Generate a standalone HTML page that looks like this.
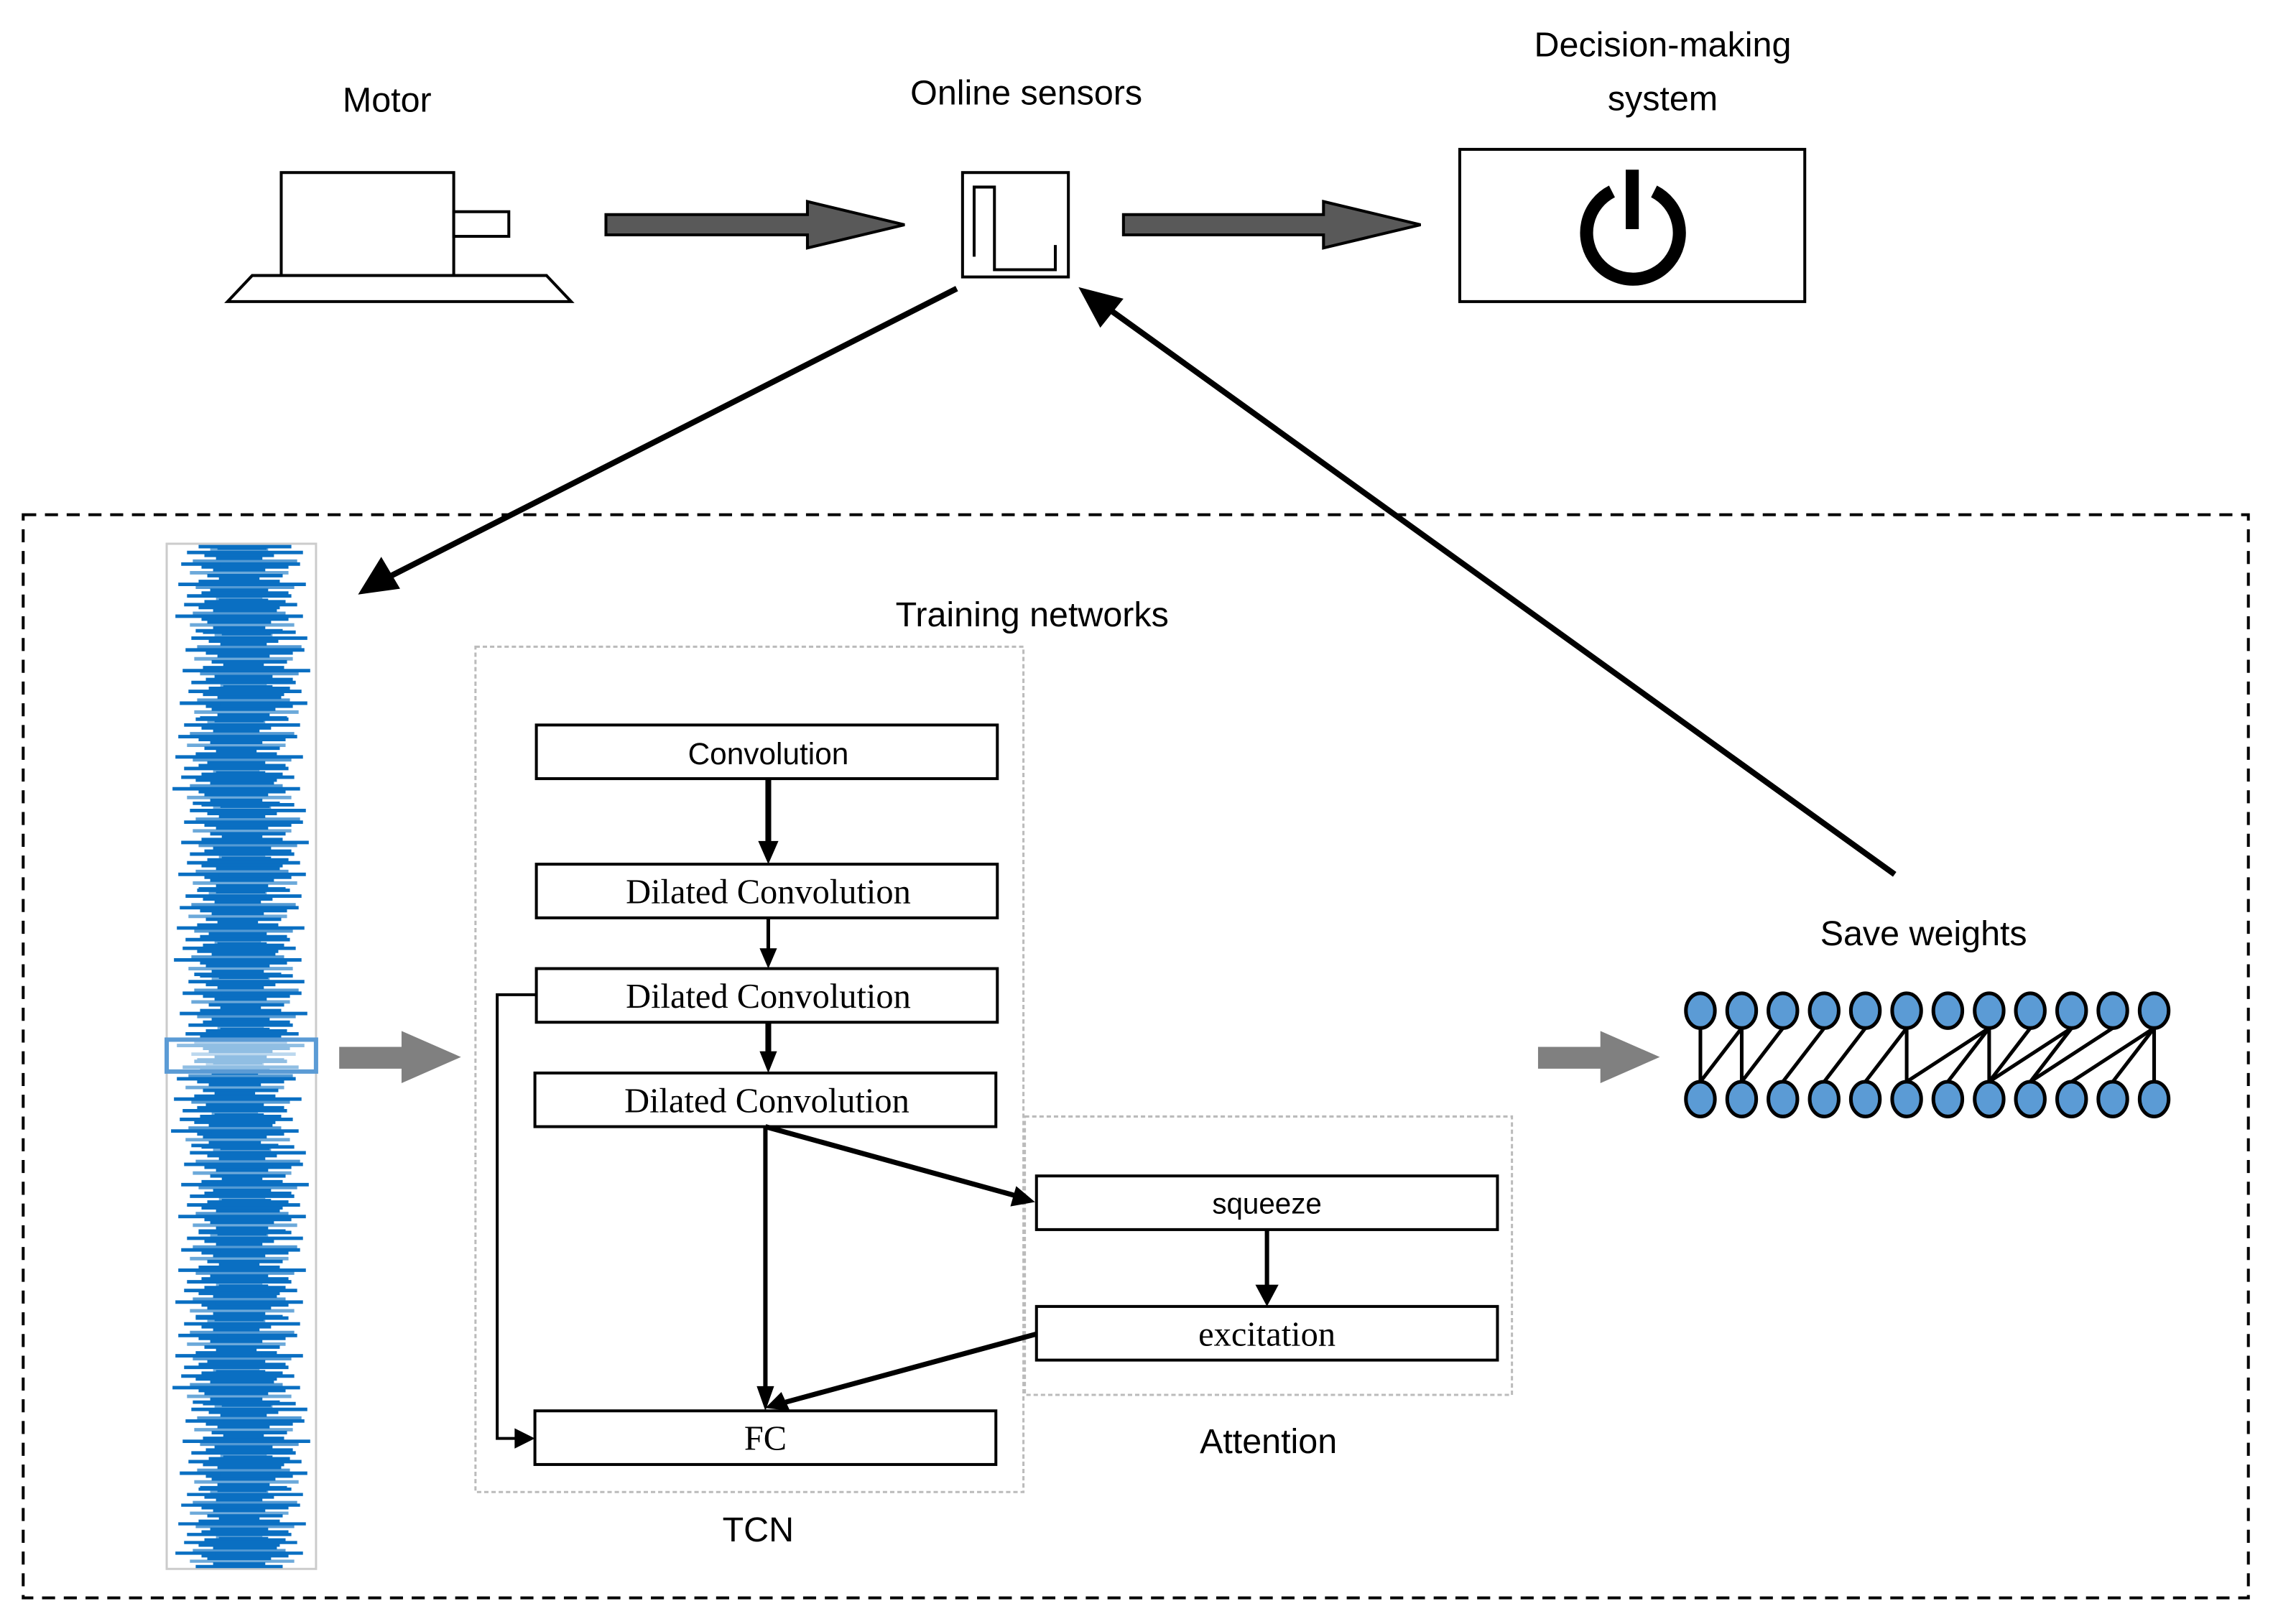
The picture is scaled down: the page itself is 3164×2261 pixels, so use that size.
<!DOCTYPE html>
<html><head><meta charset="utf-8">
<style>
html,body{margin:0;padding:0;background:#fff;}
svg{display:block;}
.s{font-family:"Liberation Sans",sans-serif;}
.r{font-family:"Liberation Serif",serif;}
</style></head>
<body>
<svg width="3164" height="2261" viewBox="0 0 1568 1120" preserveAspectRatio="none" xmlns="http://www.w3.org/2000/svg" xmlns:xlink="http://www.w3.org/1999/xlink">
<defs>
<g id="blk" stroke="#0a6fc2" stroke-width="2.4">
<line x1="137" y1="0" x2="201" y2="0"/>
<line x1="145" y1="2" x2="185" y2="2" stroke-opacity="0.6"/>
<line x1="129" y1="4" x2="209" y2="4"/>
<line x1="141" y1="6" x2="189" y2="6"/>
<line x1="149" y1="8" x2="181" y2="8"/>
<line x1="133" y1="10" x2="205" y2="10" stroke-opacity="0.7"/>
<line x1="125" y1="12" x2="207" y2="12"/>
<line x1="139" y1="14" x2="199" y2="14"/>
<line x1="147" y1="16" x2="183" y2="16"/>
<line x1="131" y1="18" x2="199" y2="18" stroke-opacity="0.6"/>
<line x1="143" y1="20" x2="195" y2="20"/>
<line x1="151" y1="22" x2="179" y2="22"/>
<line x1="137" y1="24" x2="193" y2="24"/>
<line x1="123" y1="26" x2="211" y2="26"/>
<line x1="135" y1="28" x2="203" y2="28" stroke-opacity="0.7"/>
<line x1="145" y1="30" x2="185" y2="30"/>
<line x1="139" y1="32" x2="199" y2="32"/>
<line x1="129" y1="34" x2="201" y2="34"/>
<line x1="149" y1="36" x2="181" y2="36" stroke-opacity="0.6"/>
<line x1="141" y1="38" x2="197" y2="38"/>
<line x1="127" y1="40" x2="205" y2="40"/>
<line x1="137" y1="42" x2="193" y2="42"/>
<line x1="147" y1="44" x2="191" y2="44"/>
<line x1="133" y1="46" x2="197" y2="46" stroke-opacity="0.7"/>
<line x1="121" y1="48" x2="209" y2="48"/>
<line x1="139" y1="50" x2="199" y2="50"/>
<line x1="143" y1="52" x2="187" y2="52"/>
<line x1="131" y1="54" x2="203" y2="54" stroke-opacity="0.6"/>
<line x1="147" y1="56" x2="183" y2="56"/>
<line x1="135" y1="58" x2="195" y2="58"/>
<line x1="150" y1="1" x2="184" y2="1"/>
<line x1="152" y1="13" x2="186" y2="13"/>
<line x1="148" y1="25" x2="182" y2="25"/>
<line x1="151" y1="37" x2="185" y2="37"/>
<line x1="149" y1="49" x2="183" y2="49"/>
</g>
</defs>
<rect width="1568" height="1120" fill="#fff"/>
<!-- Top labels -->
<text class="s" x="267" y="77" font-size="24" text-anchor="middle">Motor</text>
<text class="s" x="708" y="72" font-size="24" text-anchor="middle">Online sensors</text>
<text class="s" x="1147" y="39" font-size="24" text-anchor="middle">Decision-making</text>
<text class="s" x="1147" y="76" font-size="24" text-anchor="middle">system</text>
<!-- Motor -->
<rect x="194" y="119" width="119" height="71" fill="#fff" stroke="#000" stroke-width="2"/>
<rect x="313" y="146" width="38" height="17" fill="#fff" stroke="#000" stroke-width="2"/>
<polygon points="174,190 377,190 394,208 157,208" fill="#fff" stroke="#000" stroke-width="2"/>
<!-- big arrows -->
<polygon points="418,148 557,148 557,139 624,155 557,171 557,162 418,162" fill="#595959" stroke="#000" stroke-width="2"/>
<polygon points="775,148 913,148 913,139 980,155 913,171 913,162 775,162" fill="#595959" stroke="#000" stroke-width="2"/>
<!-- sensor -->
<rect x="664" y="119" width="73" height="72" fill="#fff" stroke="#000" stroke-width="2"/>
<polyline points="672,177 672,129 686,129 686,186 728,186 728,169" fill="none" stroke="#000" stroke-width="2"/>
<!-- decision -->
<rect x="1007" y="103" width="238" height="105" fill="#fff" stroke="#000" stroke-width="2"/>
<path d="M1112,132 A32,32 0 1 0 1141,132" fill="none" stroke="#000" stroke-width="9"/>
<line x1="1126" y1="117" x2="1126" y2="158" stroke="#000" stroke-width="9"/>
<!-- dashed outer box -->
<rect x="16" y="355" width="1535" height="747" fill="none" stroke="#000" stroke-width="2" stroke-dasharray="9,6"/>
<!-- long arrows -->
<line x1="660" y1="199" x2="268" y2="398" stroke="#000" stroke-width="4"/>
<polygon points="247,410 263,384 276,406" fill="#000"/>
<line x1="1307" y1="603" x2="762" y2="211" stroke="#000" stroke-width="4"/>
<polygon points="744,198 775,206 759,226" fill="#000"/>
<!-- waveform -->
<rect x="115" y="375" width="103" height="707" fill="#fff" stroke="#ccc" stroke-width="1.5"/>
<use xlink:href="#blk" href="#blk" transform="translate(0,377)"/>
<use xlink:href="#blk" href="#blk" transform="translate(3,436) scale(1,1.02)"/>
<use xlink:href="#blk" href="#blk" transform="translate(-2,496)"/>
<use xlink:href="#blk" href="#blk" transform="translate(2,555)"/>
<use xlink:href="#blk" href="#blk" transform="translate(-1,614)"/>
<use xlink:href="#blk" href="#blk" transform="translate(1,673)"/>
<use xlink:href="#blk" href="#blk" transform="translate(-3,732)"/>
<use xlink:href="#blk" href="#blk" transform="translate(2,791)"/>
<use xlink:href="#blk" href="#blk" transform="translate(0,850)"/>
<use xlink:href="#blk" href="#blk" transform="translate(-2,909)"/>
<use xlink:href="#blk" href="#blk" transform="translate(3,968)"/>
<use xlink:href="#blk" href="#blk" transform="translate(0,1027) scale(1,0.92)"/>
<rect x="115" y="717" width="103" height="22" fill="#fff" fill-opacity="0.55" stroke="#5b9bd5" stroke-width="3"/>
<!-- grey arrows -->
<polygon points="234,722 277,722 277,711 318,729 277,747 277,737 234,737" fill="#808080"/>
<polygon points="1061,722 1104,722 1104,711 1145,729 1104,747 1104,737 1061,737" fill="#808080"/>
<!-- Training networks -->
<text class="s" x="712" y="432" font-size="24" text-anchor="middle">Training networks</text>
<rect x="328" y="446" width="378" height="583" fill="none" stroke="#bbb" stroke-width="1.5" stroke-dasharray="3,2"/>
<rect x="707" y="770" width="336" height="192" fill="none" stroke="#bbb" stroke-width="1.5" stroke-dasharray="3,2"/>
<g fill="#fff" stroke="#000" stroke-width="2">
<rect x="370" y="500" width="318" height="37"/>
<rect x="370" y="596" width="318" height="37"/>
<rect x="370" y="668" width="318" height="37"/>
<rect x="369" y="740" width="318" height="37"/>
<rect x="369" y="973" width="318" height="37"/>
<rect x="715" y="811" width="318" height="37"/>
<rect x="715" y="901" width="318" height="37"/>
</g>
<text class="s" x="530" y="527" font-size="21" text-anchor="middle">Convolution</text>
<text class="r" x="530" y="623" font-size="24" text-anchor="middle">Dilated Convolution</text>
<text class="r" x="530" y="695" font-size="24" text-anchor="middle">Dilated Convolution</text>
<text class="r" x="529" y="767" font-size="24" text-anchor="middle">Dilated Convolution</text>
<text class="r" x="528" y="1000" font-size="24" text-anchor="middle">FC</text>
<text class="s" x="874" y="837" font-size="20" text-anchor="middle">squeeze</text>
<text class="r" x="874" y="928" font-size="24" text-anchor="middle">excitation</text>
<text class="s" x="875" y="1002" font-size="24" text-anchor="middle">Attention</text>
<text class="s" x="523" y="1063" font-size="24" text-anchor="middle">TCN</text>
<text class="s" x="1327" y="652" font-size="24" text-anchor="middle">Save weights</text>
<!-- TCN arrows -->
<g stroke="#000" fill="none">
<line x1="530" y1="537" x2="530" y2="582" stroke-width="4"/>
<line x1="530" y1="633" x2="530" y2="657" stroke-width="2.5"/>
<line x1="530" y1="705" x2="530" y2="727" stroke-width="4"/>
<line x1="528" y1="777" x2="528" y2="960" stroke-width="3"/>
<line x1="528" y1="777" x2="702" y2="825" stroke-width="3.5"/>
<line x1="874" y1="848" x2="874" y2="887" stroke-width="3"/>
<line x1="715" y1="920" x2="542" y2="967" stroke-width="3.5"/>
<polyline points="370,686 343,686 343,992 356,992" stroke-width="2"/>
</g>
<g fill="#000">
<polygon points="523,580 537,580 530,596"/>
<polygon points="524,654 536,654 530,668"/>
<polygon points="524,725 536,725 530,740"/>
<polygon points="522,956 534,956 528,973"/>
<polygon points="714,829 697,832 701,818"/>
<polygon points="866,886 882,886 874,901"/>
<polygon points="528,971 539,960 545,973"/>
<polygon points="355,985 369,992 355,999"/>
</g>
<!-- network -->
<g stroke="#000" stroke-width="2.5">
<line x1="1173" y1="709" x2="1173" y2="746"/>
<line x1="1201.5" y1="709" x2="1173" y2="746"/>
<line x1="1201.5" y1="709" x2="1201.5" y2="746"/>
<line x1="1229.9" y1="709" x2="1201.5" y2="746"/>
<line x1="1258.4" y1="709" x2="1229.9" y2="746"/>
<line x1="1286.8" y1="709" x2="1258.4" y2="746"/>
<line x1="1315.3" y1="709" x2="1286.8" y2="746"/>
<line x1="1315.3" y1="709" x2="1315.3" y2="746"/>
<line x1="1372.2" y1="709" x2="1315.3" y2="746"/>
<line x1="1372.2" y1="709" x2="1343.7" y2="746"/>
<line x1="1372.2" y1="709" x2="1372.2" y2="746"/>
<line x1="1400.6" y1="709" x2="1372.2" y2="746"/>
<line x1="1429.1" y1="709" x2="1372.2" y2="746"/>
<line x1="1429.1" y1="709" x2="1400.6" y2="746"/>
<line x1="1457.5" y1="709" x2="1400.6" y2="746"/>
<line x1="1486" y1="709" x2="1429.1" y2="746"/>
<line x1="1486" y1="709" x2="1457.5" y2="746"/>
<line x1="1486" y1="709" x2="1486" y2="746"/>
</g>
<g stroke="#000" stroke-width="2.5" fill="#5b9bd5">
<ellipse cx="1173" cy="697" rx="10" ry="12"/><ellipse cx="1173" cy="758" rx="10" ry="12"/>
<ellipse cx="1201.5" cy="697" rx="10" ry="12"/><ellipse cx="1201.5" cy="758" rx="10" ry="12"/>
<ellipse cx="1229.9" cy="697" rx="10" ry="12"/><ellipse cx="1229.9" cy="758" rx="10" ry="12"/>
<ellipse cx="1258.4" cy="697" rx="10" ry="12"/><ellipse cx="1258.4" cy="758" rx="10" ry="12"/>
<ellipse cx="1286.8" cy="697" rx="10" ry="12"/><ellipse cx="1286.8" cy="758" rx="10" ry="12"/>
<ellipse cx="1315.3" cy="697" rx="10" ry="12"/><ellipse cx="1315.3" cy="758" rx="10" ry="12"/>
<ellipse cx="1343.7" cy="697" rx="10" ry="12"/><ellipse cx="1343.7" cy="758" rx="10" ry="12"/>
<ellipse cx="1372.2" cy="697" rx="10" ry="12"/><ellipse cx="1372.2" cy="758" rx="10" ry="12"/>
<ellipse cx="1400.6" cy="697" rx="10" ry="12"/><ellipse cx="1400.6" cy="758" rx="10" ry="12"/>
<ellipse cx="1429.1" cy="697" rx="10" ry="12"/><ellipse cx="1429.1" cy="758" rx="10" ry="12"/>
<ellipse cx="1457.5" cy="697" rx="10" ry="12"/><ellipse cx="1457.5" cy="758" rx="10" ry="12"/>
<ellipse cx="1486" cy="697" rx="10" ry="12"/><ellipse cx="1486" cy="758" rx="10" ry="12"/>
</g>
</svg>
</body></html>
